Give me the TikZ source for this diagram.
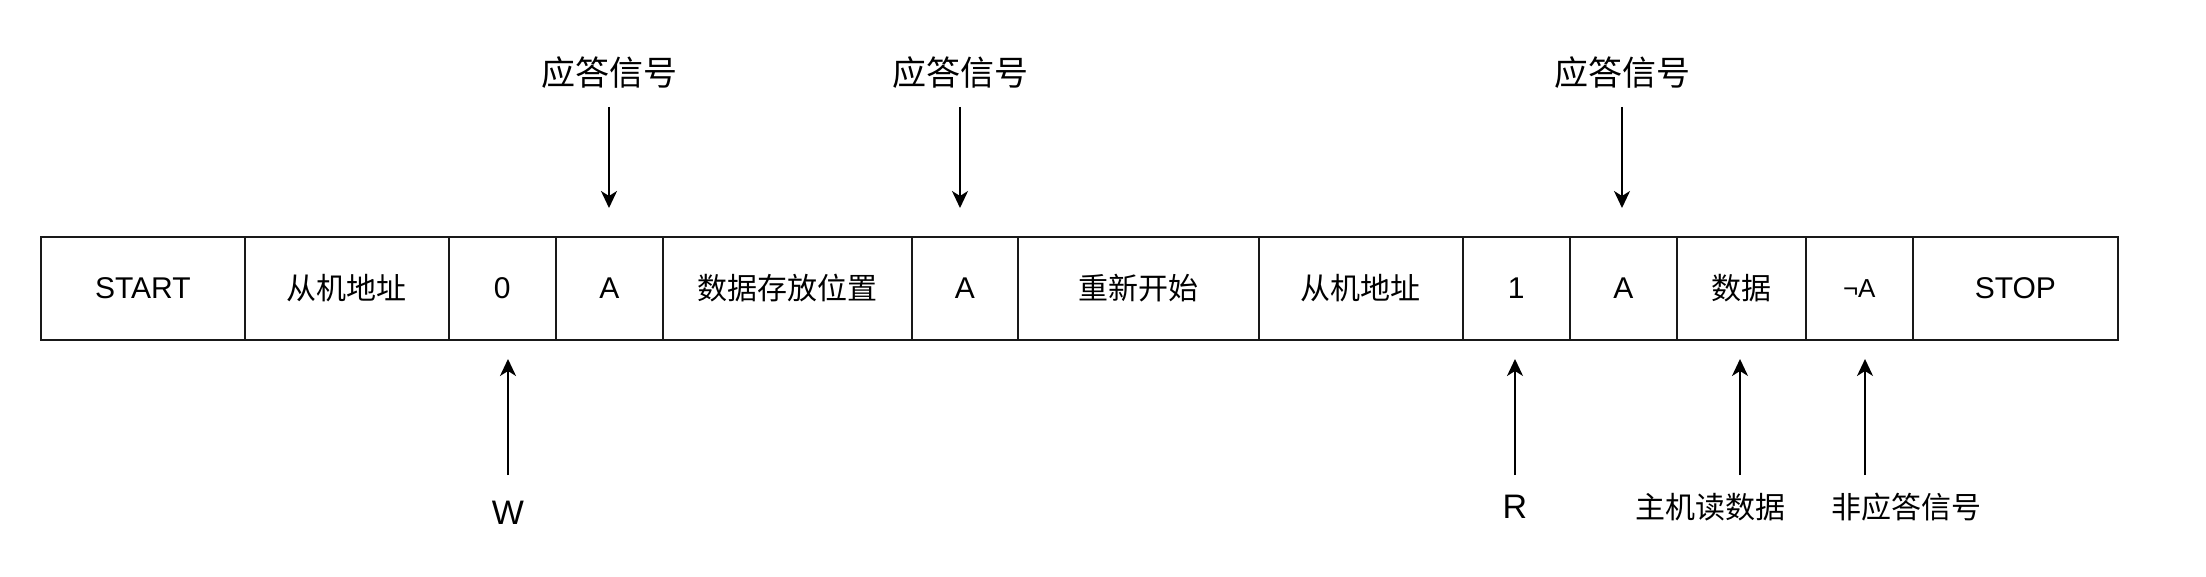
\documentclass[tikz,border=0pt]{standalone}
\usepackage{fontspec}
\setmainfont{Liberation Sans}
\newfontfamily\cjk{Noto Sans CJK SC}
\usepackage{tikz}
\usetikzlibrary{arrows.meta}
\usetikzlibrary{positioning}
\tikzset{cell/.style={rectangle,draw=black!90,line width=2pt,minimum height=103pt,inner sep=0pt,outer sep=0pt,font=\fontsize{30}{36}\selectfont}}
\tikzset{sig/.style={line width=2pt,-{Stealth[length=17pt,width=16pt,inset=5pt]}}}
\tikzset{biglab/.style={inner sep=0pt,font=\fontsize{34}{40}\selectfont}}
\tikzset{smalllab/.style={inner sep=0pt,font=\fontsize{30}{36}\selectfont}}

\begin{document}
\begin{tikzpicture}[x=1pt,y=-1pt]
\useasboundingbox (0,0) rectangle (2206,577);

% frame cells
\node[cell,minimum width=204pt,anchor=west] (c1) at (40.8,288.5) {START};
\node[cell,minimum width=204pt,right=0pt of c1] (c2) {\cjk 从机地址};
\node[cell,minimum width=107pt,right=0pt of c2] (c3) {0};
\node[cell,minimum width=107pt,right=0pt of c3] (c4) {A};
\node[cell,minimum width=249pt,right=0pt of c4] (c5) {\cjk 数据存放位置};
\node[cell,minimum width=106pt,right=0pt of c5] (c6) {A};
\node[cell,minimum width=241pt,right=0pt of c6] (c7) {\cjk 重新开始};
\node[cell,minimum width=204pt,right=0pt of c7] (c8) {\cjk 从机地址};
\node[cell,minimum width=107pt,right=0pt of c8] (c9) {1};
\node[cell,minimum width=107pt,right=0pt of c9] (c10) {A};
\node[cell,minimum width=129pt,right=0pt of c10] (c11) {\cjk 数据};
\node[cell,minimum width=107pt,right=0pt of c11,font=\fontsize{26}{30}\selectfont] (c12) {¬A};
\node[cell,minimum width=205pt,right=0pt of c12] (c13) {STOP};

% acknowledge arrows above
\foreach \i/\x in {1/609,2/960,3/1622}{
  \node[biglab] (ack\i) at (\x,73) {\cjk 应答信号};
  \coordinate (ackS\i) at (\x,107);
  \coordinate (ackE\i) at (\x,208);
  \draw[sig] (ackS\i) -- (ackE\i);
}

% labels below
\node[biglab] (lw) at (508,513) {W};
\node[biglab] (lr) at (1515,507) {R};
\node[smalllab] (lrd) at (1710,507) {\cjk 主机读数据};
\node[smalllab] (lna) at (1906,507) {\cjk 非应答信号};

\foreach \n/\x in {w/508,r/1515,rd/1740,na/1865}{
  \coordinate (upS\n) at (\x,475);
  \coordinate (upE\n) at (\x,359);
  \draw[sig] (upS\n) -- (upE\n);
}
\end{tikzpicture}
\end{document}
